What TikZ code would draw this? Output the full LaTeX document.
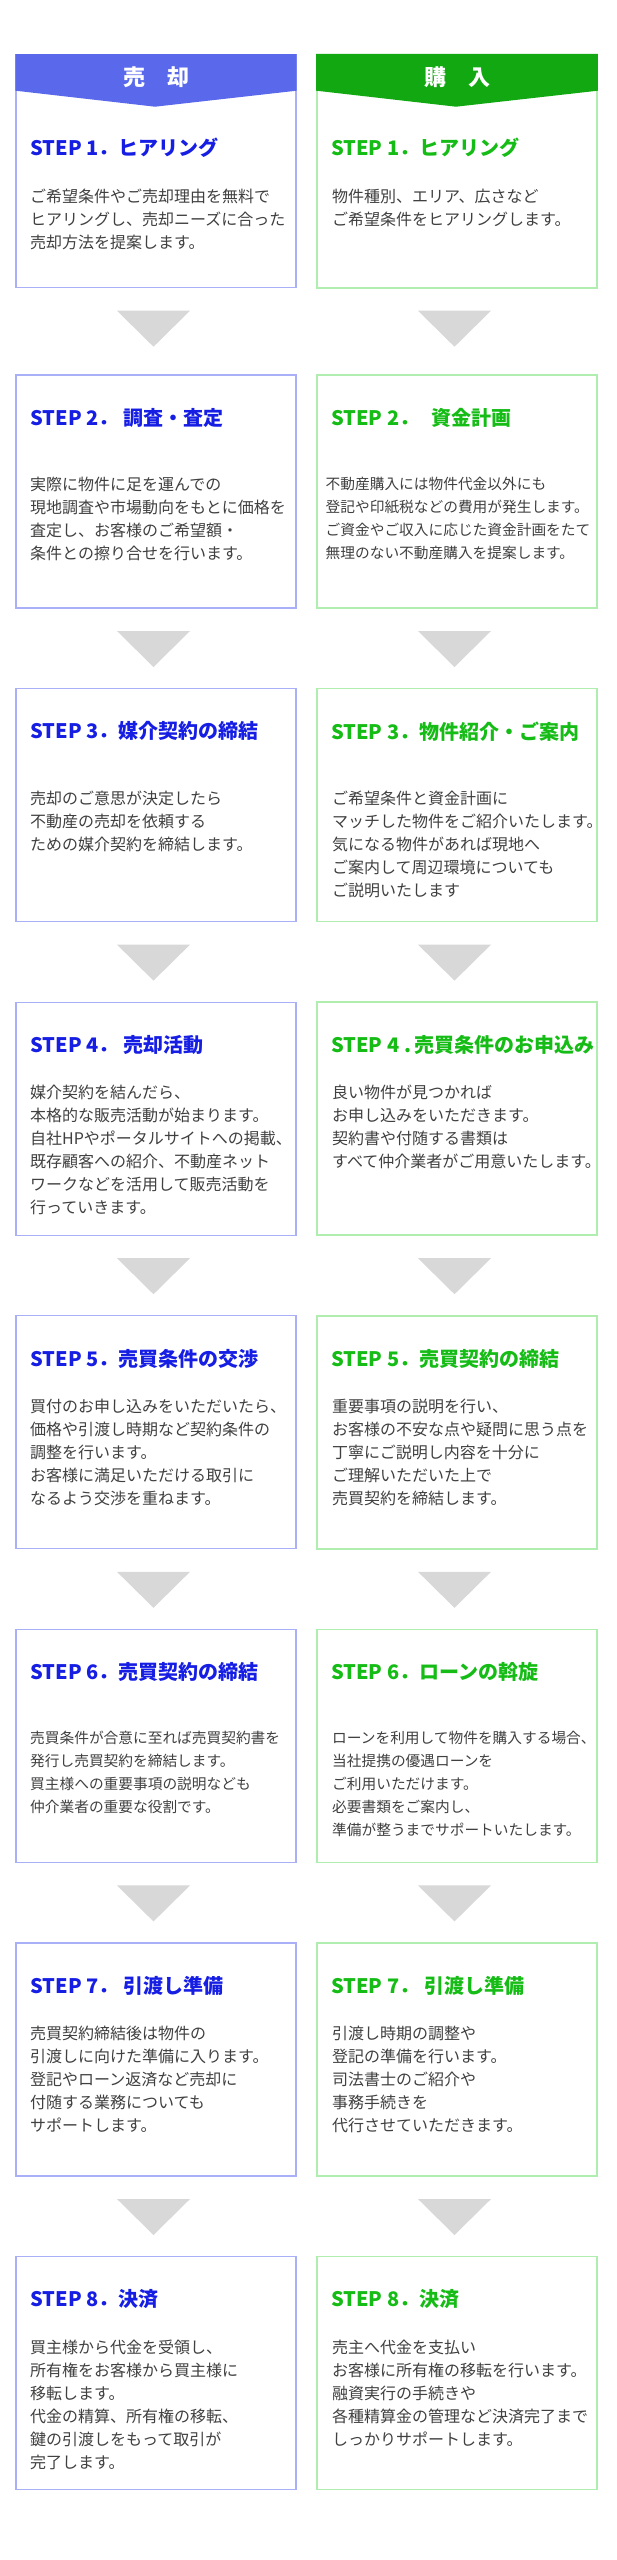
\documentclass[tikz,border=0pt]{standalone}
\usepackage{fontspec}
\setmainfont{Noto Sans CJK JP}
\usepackage{xcolor}
\usepackage{tikz}

\definecolor{sellHead}{HTML}{5A69EB}
\definecolor{sellLine}{HTML}{AAB0F8}
\definecolor{sellBlue}{HTML}{161EE4}
\definecolor{buyHead}{HTML}{12A812}
\definecolor{buyLine}{HTML}{B0EEB0}
\definecolor{buyGreen}{HTML}{16BC16}
\definecolor{bodyGray}{HTML}{404040}
\definecolor{arrowGray}{HTML}{D8D8D8}

\begin{document}
\begin{tikzpicture}[x=1pt, y=-1pt,
    sellbox/.style={draw=sellLine, line width=1.2pt, fill=white, minimum width=280pt, minimum height=233pt, inner sep=0pt, outer sep=0pt, anchor=north west},
    buybox/.style={sellbox, draw=buyLine, line width=1.6pt},
    headtext/.style={text=white, font=\fontsize{22}{22}\selectfont\bfseries, inner sep=0pt},
    selltitle/.style={text=sellBlue, font=\fontsize{20}{20}\selectfont\bfseries, anchor=west, inner sep=0pt},
    buytitle/.style={selltitle, text=buyGreen},
    stepbody/.style={text=bodyGray, font=\fontsize{16}{23}\selectfont, align=left, anchor=north west, inner sep=0pt},
    smallbody/.style={stepbody, font=\fontsize{14.7}{23}\selectfont},
  ]
  \useasboundingbox[fill=white] (0,0) rectangle (616,2560);

  % frames of the steps
  \foreach \k/\top in {1/54.7, 2/375, 3/688.6, 4/1002.2, 5/1315.8, 6/1629.4, 7/1943, 8/2256.6} {
    \node[sellbox] (sell\k) at (16, \top) {};
    \node[buybox] (buy\k) at (317, \top) {};
  }

  % grey arrows between the steps
  \foreach \k in {1,...,7} {
    \foreach \col in {sell, buy} {
      \fill[arrowGray] ([xshift=-39pt, yshift=-23pt]\col\k.south) -- ([xshift=34pt, yshift=-23pt]\col\k.south)
        -- ([xshift=-2.5pt, yshift=-59pt]\col\k.south) -- cycle;
    }
  }

  % headers
  \fill[sellHead] ([xshift=-0.6pt, yshift=0.6pt]sell1.north west) -- ([xshift=0.6pt, yshift=0.6pt]sell1.north east)
    -- ([xshift=0.6pt, yshift=-36pt]sell1.north east) -- ([xshift=-1pt, yshift=-52pt]sell1.north)
    -- ([xshift=-0.6pt, yshift=-36pt]sell1.north west) -- cycle;
  \fill[buyHead] ([xshift=-0.8pt, yshift=0.8pt]buy1.north west) -- ([xshift=0.8pt, yshift=0.8pt]buy1.north east)
    -- ([xshift=0.8pt, yshift=-36pt]buy1.north east) -- ([xshift=-1pt, yshift=-52pt]buy1.north)
    -- ([xshift=-0.8pt, yshift=-36pt]buy1.north west) -- cycle;
  \node[headtext] (sellhead) at ([yshift=-22.3pt]sell1.north) {売　却};
  \node[headtext] (buyhead) at ([yshift=-22.3pt]buy1.north) {購　入};

  % step 1
  \node[selltitle] (selltitle1) at ([xshift=14.2pt, yshift=-93.3pt]sell1.north west) {STEP 1．ヒアリング};
  \node[stepbody] (sellbody1) at ([xshift=14pt, yshift=-133.8pt]sell1.north west)
    {ご希望条件やご売却理由を無料で\\ヒアリングし、売却ニーズに合った\\売却方法を提案します。};
  \node[buytitle] (buytitle1) at ([xshift=14pt, yshift=-93.3pt]buy1.north west) {STEP 1．ヒアリング};
  \node[stepbody] (buybody1) at ([xshift=15pt, yshift=-133.8pt]buy1.north west)
    {物件種別、エリア、広さなど\\ご希望条件をヒアリングします。};

  % step 2
  \node[selltitle] (selltitle2) at ([xshift=14.2pt, yshift=-42.7pt]sell2.north west) {STEP 2． 調査・査定};
  \node[stepbody] (sellbody2) at ([xshift=14pt, yshift=-101.7pt]sell2.north west)
    {実際に物件に足を運んでの\\現地調査や市場動向をもとに価格を\\査定し、お客様のご希望額・\\条件との擦り合せを行います。};
  \node[buytitle] (buytitle2) at ([xshift=14pt, yshift=-42.7pt]buy2.north west) {STEP 2．\hspace{12pt}資金計画};
  \node[smallbody] (buybody2) at ([xshift=8.5pt, yshift=-101.7pt]buy2.north west)
    {不動産購入には物件代金以外にも\\登記や印紙税などの費用が発生します。\\ご資金やご収入に応じた資金計画をたて\\無理のない不動産購入を提案します。};

  % step 3
  \node[selltitle] (selltitle3) at ([xshift=14.2pt, yshift=-42.7pt]sell3.north west) {STEP 3．媒介契約の締結};
  \node[stepbody] (sellbody3) at ([xshift=14pt, yshift=-101.7pt]sell3.north west)
    {売却のご意思が決定したら\\不動産の売却を依頼する\\ための媒介契約を締結します。};
  \node[buytitle] (buytitle3) at ([xshift=14pt, yshift=-42.7pt]buy3.north west) {STEP 3．物件紹介・ご案内};
  \node[stepbody] (buybody3) at ([xshift=15pt, yshift=-101.7pt]buy3.north west)
    {ご希望条件と資金計画に\\マッチした物件をご紹介いたします。\\気になる物件があれば現地へ\\ご案内して周辺環境についても\\ご説明いたします};

  % step 4
  \node[selltitle] (selltitle4) at ([xshift=14.2pt, yshift=-42.7pt]sell4.north west) {STEP 4． 売却活動};
  \node[stepbody] (sellbody4) at ([xshift=14pt, yshift=-82.8pt]sell4.north west)
    {媒介契約を結んだら、\\本格的な販売活動が始まります。\\自社HPやポータルサイトへの掲載、\\既存顧客への紹介、不動産ネット\\ワークなどを活用して販売活動を\\行っていきます。};
  \node[buytitle] (buytitle4) at ([xshift=14pt, yshift=-42.7pt]buy4.north west) {STEP 4 .\,売買条件のお申込み};
  \node[stepbody] (buybody4) at ([xshift=15pt, yshift=-82.8pt]buy4.north west)
    {良い物件が見つかれば\\お申し込みをいただきます。\\契約書や付随する書類は\\すべて仲介業者がご用意いたします。};

  % step 5
  \node[selltitle] (selltitle5) at ([xshift=14.2pt, yshift=-42.7pt]sell5.north west) {STEP 5．売買条件の交渉};
  \node[stepbody] (sellbody5) at ([xshift=14pt, yshift=-82.8pt]sell5.north west)
    {買付のお申し込みをいただいたら、\\価格や引渡し時期など契約条件の\\調整を行います。\\お客様に満足いただける取引に\\なるよう交渉を重ねます。};
  \node[buytitle] (buytitle5) at ([xshift=14pt, yshift=-42.7pt]buy5.north west) {STEP 5．売買契約の締結};
  \node[stepbody] (buybody5) at ([xshift=15pt, yshift=-82.8pt]buy5.north west)
    {重要事項の説明を行い、\\お客様の不安な点や疑問に思う点を\\丁寧にご説明し内容を十分に\\ご理解いただいた上で\\売買契約を締結します。};

  % step 6
  \node[selltitle] (selltitle6) at ([xshift=14.2pt, yshift=-42.7pt]sell6.north west) {STEP 6．売買契約の締結};
  \node[smallbody] (sellbody6) at ([xshift=14pt, yshift=-101.7pt]sell6.north west)
    {売買条件が合意に至れば売買契約書を\\発行し売買契約を締結します。\\買主様への重要事項の説明なども\\仲介業者の重要な役割です。};
  \node[buytitle] (buytitle6) at ([xshift=14pt, yshift=-42.7pt]buy6.north west) {STEP 6．ローンの斡旋};
  \node[smallbody] (buybody6) at ([xshift=15pt, yshift=-101.7pt]buy6.north west)
    {ローンを利用して物件を購入する場合、\\当社提携の優遇ローンを\\ご利用いただけます。\\必要書類をご案内し、\\準備が整うまでサポートいたします。};

  % step 7
  \node[selltitle] (selltitle7) at ([xshift=14.2pt, yshift=-42.7pt]sell7.north west) {STEP 7． 引渡し準備};
  \node[stepbody] (sellbody7) at ([xshift=14pt, yshift=-82.8pt]sell7.north west)
    {売買契約締結後は物件の\\引渡しに向けた準備に入ります。\\登記やローン返済など売却に\\付随する業務についても\\サポートします。};
  \node[buytitle] (buytitle7) at ([xshift=14pt, yshift=-42.7pt]buy7.north west) {STEP 7． 引渡し準備};
  \node[stepbody] (buybody7) at ([xshift=15pt, yshift=-82.8pt]buy7.north west)
    {引渡し時期の調整や\\登記の準備を行います。\\司法書士のご紹介や\\事務手続きを\\代行させていただきます。};

  % step 8
  \node[selltitle] (selltitle8) at ([xshift=14.2pt, yshift=-42.7pt]sell8.north west) {STEP 8．決済};
  \node[stepbody] (sellbody8) at ([xshift=14pt, yshift=-82.8pt]sell8.north west)
    {買主様から代金を受領し、\\所有権をお客様から買主様に\\移転します。\\代金の精算、所有権の移転、\\鍵の引渡しをもって取引が\\完了します。};
  \node[buytitle] (buytitle8) at ([xshift=14pt, yshift=-42.7pt]buy8.north west) {STEP 8．決済};
  \node[stepbody] (buybody8) at ([xshift=15pt, yshift=-82.8pt]buy8.north west)
    {売主へ代金を支払い\\お客様に所有権の移転を行います。\\融資実行の手続きや\\各種精算金の管理など決済完了まで\\しっかりサポートします。};
\end{tikzpicture}
\end{document}
